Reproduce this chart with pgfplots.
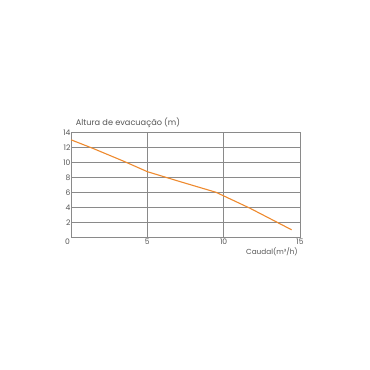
\documentclass[border=0pt]{standalone}
\usepackage{pgfplots}
\pgfplotsset{compat=1.18}
\usepackage{fontspec}
\setmainfont{Poppins}
\definecolor{curve}{HTML}{EE8A2E}
\definecolor{gridc}{HTML}{8A8A8A}
\definecolor{txt}{HTML}{555555}
\begin{document}
\begin{tikzpicture}[x=1pt,y=1pt]
\path[use as bounding box] (0,0) rectangle (370,370);
\begin{axis}[
  at={(71pt,132.7pt)}, anchor=south west,
  scale only axis, width=229pt, height=105pt,
  xmin=0, xmax=15, ymin=0, ymax=14,
  xtick={5,10,15},
  extra x ticks={0}, extra x tick style={xticklabel style={xshift=-3.5pt}, grid=none},
  ymajorgrids, xmajorgrids,
  grid style={gridc, line width=0.5pt},
  axis line style={gridc, line width=0.5pt},
  major tick length=0pt,
  tick style={draw=none},
  tick label style={font=\fontsize{7.6}{8}\selectfont, text=txt},
  /pgf/number format/assume math mode=true,
  xticklabel style={yshift=2pt},
  yticklabel style={xshift=3pt},
  ytick={2,4,...,14},
  clip=false,
]
\addplot[curve, line width=1.1pt, line join=round] coordinates {
(0,13.0) (1.5,11.8) (3.5,10.1) (5,8.75) (7.1,7.45) (9.5,6.0) (11.7,3.9) (14.45,1.0)
};
\end{axis}
\node[anchor=base west, inner sep=0pt, font=\fontsize{8.2}{9}\selectfont, text=txt] at (75.7,244.0) {Altura de evacuação (m)};
\node[anchor=base east, inner sep=0pt, font=\fontsize{7.3}{8}\selectfont, text=txt] at (298,115.0) {Caudal(m³/h)};
\end{tikzpicture}
\end{document}
